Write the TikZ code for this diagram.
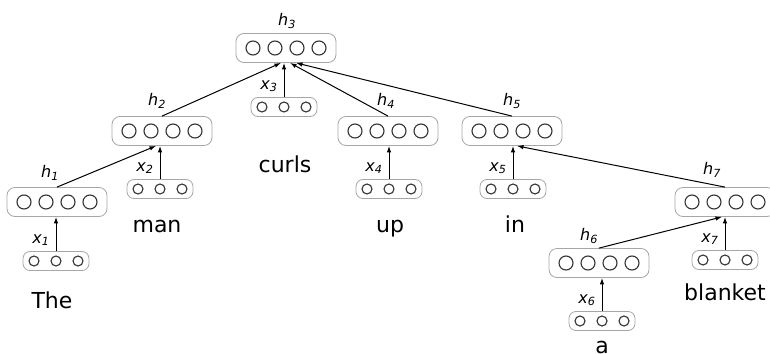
\documentclass[tikz,border=0pt]{standalone}
\usepackage{fontspec}
\setmainfont{DejaVu Sans}
\usetikzlibrary{calc,arrows.meta}
\tikzset{
	hbox/.style={draw=black!35, line width=0.8pt, rounded corners=8pt, minimum width=100pt, minimum height=29pt, inner sep=0pt},
	xbox/.style={draw=black!35, line width=0.8pt, rounded corners=7pt, minimum width=66pt, minimum height=19pt, inner sep=0pt},
	cell/.style={draw=black!80, line width=1.1pt},
	link/.style={line width=1pt, -{Latex[length=6.5pt,width=4.5pt]}},
	word/.style={font=\fontsize{22}{26}\selectfont, anchor=base, inner sep=0pt},
	tag/.style={font=\fontsize{16}{19}\selectfont\itshape, inner sep=0pt}
}
\def\hvec#1(#2){\node[hbox] (#1) at (#2) {}; \foreach \dx in {-33,-11,11,33} \draw[cell] ($(#1)+(\dx,0)$) circle (7pt);}
\def\xvec#1(#2){\node[xbox] (#1) at (#2) {}; \foreach \dx in {-22,0,22} \draw[cell] ($(#1)+(\dx,0)$) circle (5pt);}

\begin{document}
\begin{tikzpicture}[x=1pt, y=-1pt]
		%%%%% START %%%%%
		\useasboundingbox (0, 0) rectangle (770, 353);
		
		\hvec{h1}(57, 202)
		\hvec{h2}(162, 131)
		\hvec{h3}(286, 48)
		\hvec{h4}(388, 131)
		\hvec{h5}(512, 131)
		\hvec{h6}(599, 263)
		\hvec{h7}(725, 202)
		
		\xvec{x1}(56, 261)
		\xvec{x2}(160, 189)
		\xvec{x3}(284, 107)
		\xvec{x4}(389, 189)
		\xvec{x5}(513, 189)
		\xvec{x6}(602, 321)
		\xvec{x7}(725, 260)
		
		\node[tag] (lh1) at (50, 173) {h\textsubscript{1}};
		\node[tag] (lh2) at (157, 101) {h\textsubscript{2}};
		\node[tag] (lh3) at (287, 21) {h\textsubscript{3}};
		\node[tag] (lh4) at (386, 101) {h\textsubscript{4}};
		\node[tag] (lh5) at (512, 101) {h\textsubscript{5}};
		\node[tag] (lh6) at (589, 236) {h\textsubscript{6}};
		\node[tag] (lh7) at (712, 170) {h\textsubscript{7}};
		
		\foreach \k in {1,...,7} {
			\node[tag] (lx\k) at ($(x\k.north)+(-15,-11)$) {x\textsubscript{\k}};
			\draw[link] (x\k.north) -- (x\k.north |- h\k.south);
		}
		
		\draw[link] (h1.north) -- ($(h2.south)+(-6,0)$);
		\draw[link] (h2.north) -- ($(h3.south)+(-5,0)$);
		\draw[link] (h4.north) -- ($(h3.south)+(4,0)$);
		\draw[link] (h5.north) -- ($(h3.south)+(10,0)$);
		\draw[link] (h7.north) -- ($(h5.south)+(5,0)$);
		\draw[link] (h6.north) -- ($(h7.south)+(-3,0)$);
		
		\node[word] (w1) at (52, 308) {The};
		\node[word] (w2) at (157, 232) {man};
		\node[word] (w3) at (285, 172) {curls};
		\node[word] (w4) at (390, 232) {up};
		\node[word] (w5) at (515, 232) {in};
		\node[word] (w6) at (602, 353) {a};
		\node[word] (w7) at (725, 300) {blanket};
		%%%%% END %%%%%
	\end{tikzpicture}
\end{document}
